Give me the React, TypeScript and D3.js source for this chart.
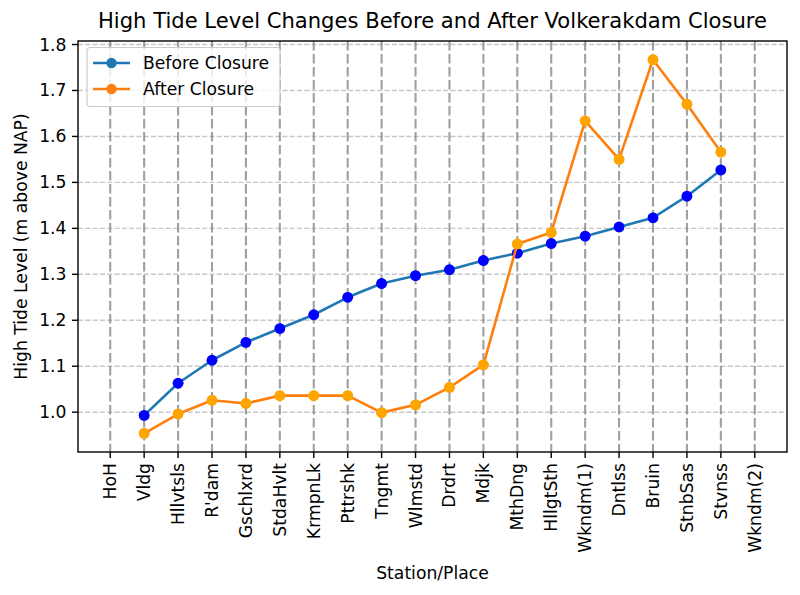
import React from "react";
import * as d3 from "d3";

const stations = [
  "HoH", "Vldg", "Hllvtsls", "R'dam", "Gschlxrd", "StdaHvlt", "KrmpnLk", "Pttrshk",
  "Tngmt", "Wlmstd", "Drdrt", "Mdjk", "MthDng", "HllgtSth", "Wkndm(1)", "Dntlss",
  "Bruin", "StnbSas", "Stvnss", "Wkndm(2)",
];
// values for stations Vldg..Stvnss (HoH and Wkndm(2) have no data)
const beforeStations = [
  "Vldg", "Hllvtsls", "R'dam", "Gschlxrd", "StdaHvlt", "KrmpnLk", "Pttrshk", "Tngmt",
  "Wlmstd", "Drdrt", "Mdjk", "MthDng", "HllgtSth", "Wkndm(1)", "Dntlss", "Bruin",
  "StnbSas", "Stvnss",
];
const beforeValues = [
  0.993, 1.063, 1.113, 1.152, 1.182, 1.212, 1.25, 1.28, 1.297, 1.31, 1.33, 1.346,
  1.367, 1.383, 1.403, 1.423, 1.47, 1.527,
];
const afterValues = [
  0.954, 0.996, 1.026, 1.019, 1.036, 1.036, 1.036, 0.999, 1.016, 1.054, 1.103, 1.366,
  1.391, 1.634, 1.55, 1.767, 1.67, 1.566,
];
const yTicks = [1.0, 1.1, 1.2, 1.3, 1.4, 1.5, 1.6, 1.7, 1.8];

const W = 800, H = 595;
const L = 78, R = 787, T = 41, B = 452;
const FONT = "DejaVu Sans, sans-serif";
const FS = 17.2;
const TL = 6;

export default function App() {
  const n = stations.length - 1;
  const x = d3.scaleLinear().domain([-0.05 * n, n + 0.05 * n]).range([L, R]);
  const all = [...beforeValues, ...afterValues];
  const mn = d3.min(all)!, mx = d3.max(all)!;
  const pad = (mx - mn) * 0.05;
  const y = d3.scaleLinear().domain([mn - pad, mx + pad]).range([B, T]);
  const xi = (s: string) => stations.indexOf(s);

  const line = d3.line<number>()
    .x((_, i) => x(xi(beforeStations[i])))
    .y((d) => y(d));

  const series = [
    { name: "Before Closure", vals: beforeValues, line: "#1f77b4", dot: "#0000ff" },
    { name: "After Closure", vals: afterValues, line: "#ff7f0e", dot: "#ffa500" },
  ];

  return (
    <svg width={W} height={H} style={{ display: "block", position: "absolute", left: 0, top: 0 }} fontFamily={FONT}>
      <rect width={W} height={H} fill="#fff" />
      <defs>
        <clipPath id="ax"><rect x={L} y={T} width={R - L} height={B - T} /></clipPath>
      </defs>
      {/* horizontal grid */}
      {yTicks.map((t) => (
        <line key={"h" + t} x1={L} x2={R} y1={y(t)} y2={y(t)} stroke="#b0b0b0" strokeOpacity={0.7}
          strokeWidth={1.4} strokeDasharray="5.1,2.2" />
      ))}
      {/* vertical station lines */}
      {stations.map((s, i) => (
        <line key={"v" + s} x1={x(i)} x2={x(i)} y1={T} y2={B} stroke="#808080" strokeOpacity={0.75}
          strokeWidth={2.1} strokeDasharray="9.5,3.5" />
      ))}
      <g clipPath="url(#ax)">
        {series.map((s) => (
          <g key={s.name}>
            <path d={line(s.vals)!} fill="none" stroke={s.line} strokeWidth={2.6} strokeLinejoin="round" />
            {s.vals.map((v, i) => (
              <circle key={i} cx={x(xi(beforeStations[i]))} cy={y(v)} r={5.2} fill={s.line} />
            ))}
            {s.vals.map((v, i) => (
              <circle key={"d" + i} cx={x(xi(beforeStations[i]))} cy={y(v)} r={5.4} fill={s.dot} />
            ))}
          </g>
        ))}
      </g>
      {/* axes frame */}
      <rect x={L} y={T} width={R - L} height={B - T} fill="none" stroke="#000" strokeWidth={1.4} />
      {/* y ticks */}
      {yTicks.map((t) => (
        <g key={"yt" + t}>
          <line x1={L - TL} x2={L} y1={y(t)} y2={y(t)} stroke="#000" strokeWidth={1.4} />
          <text x={L - TL - 5.5} y={y(t)} dy="0.35em" textAnchor="end" fontSize={FS} fill="#000">
            {d3.format(".1f")(t)}
          </text>
        </g>
      ))}
      {/* x ticks */}
      {stations.map((s, i) => (
        <g key={"xt" + s}>
          <line x1={x(i)} x2={x(i)} y1={B} y2={B + TL} stroke="#000" strokeWidth={1.4} />
          <text transform={`translate(${x(i) + 6},${B + TL + 5}) rotate(-90)`} textAnchor="end"
            fontSize={FS} fill="#000">{s}</text>
        </g>
      ))}
      {/* labels */}
      <text x={(L + R) / 2} y={579} textAnchor="middle" fontSize={FS}>Station/Place</text>
      <text transform={`translate(27,${(T + B) / 2}) rotate(-90)`} textAnchor="middle" fontSize={FS}>
        High Tide Level (m above NAP)
      </text>
      <text x={(L + R) / 2} y={28} textAnchor="middle" fontSize={21.1}>
        High Tide Level Changes Before and After Volkerakdam Closure
      </text>
      {/* legend */}
      <g>
        <rect x={87} y={47.5} width={193} height={59} rx={3.5} fill="#fff" fillOpacity={0.8} stroke="#cccccc" strokeWidth={1.2} />
        {series.map((s, i) => (
          <g key={"lg" + s.name} transform={`translate(0,${63 + i * 26})`}>
            <line x1={93} x2={130} y1={0} y2={0} stroke={s.line} strokeWidth={2.6} />
            <circle cx={111.5} cy={0} r={5.2} fill={s.line} />
            <text x={143} y={0} dy="0.35em" fontSize={FS}>{s.name}</text>
          </g>
        ))}
      </g>
    </svg>
  );
}
